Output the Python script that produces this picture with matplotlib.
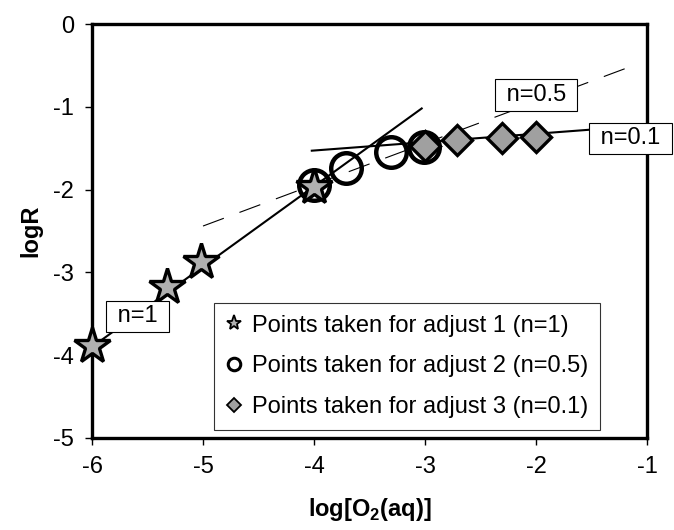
import matplotlib.pyplot as plt
from matplotlib.lines import Line2D

plt.rcParams['font.family'] = ['Liberation Sans', 'DejaVu Sans']
plt.rcParams['mathtext.fontset'] = 'custom'
plt.rcParams['mathtext.rm'] = 'Liberation Sans'
plt.rcParams['mathtext.bf'] = 'Liberation Sans:bold'
plt.rcParams['axes.unicode_minus'] = False

# points used for each fit
star_x = [-6.0, -5.32, -5.02, -4.0]
star_y = [-3.89, -3.18, -2.87, -1.97]
circ_x = [-4.0, -3.71, -3.31, -3.01]
circ_y = [-1.94, -1.74, -1.54, -1.48]
diam_x = [-3.0, -2.71, -2.31, -2.0]
diam_y = [-1.47, -1.40, -1.38, -1.36]

# fitted lines (ends)
fit1_x = [-6.0, -3.03]
fit1_y = [-3.90, -1.02]
fit05_x = [-5.0, -1.1]
fit05_y = [-2.44, -0.49]
fit01_x = [-4.02, -1.45]
fit01_y = [-1.53, -1.27]

labels = ['Points taken for adjust 1 (n=1)',
          'Points taken for adjust 2 (n=0.5)',
          'Points taken for adjust 3 (n=0.1)']
box_text = [' n=1 ', ' n=0.5 ', ' n=0.1 ']
box_x = [-5.59, -2.0, -1.15]
box_y = [-3.53, -0.86, -1.38]

fig = plt.figure(figsize=(6.74, 5.30), dpi=100)
ax = fig.add_axes([0.1365, 0.1736, 0.8235, 0.7811])

ax.plot(fit1_x, fit1_y, color='black', lw=1.5, zorder=2)
ax.plot(fit01_x, fit01_y, color='black', lw=1.5, zorder=2)
ax.plot(fit05_x, fit05_y, color='black', lw=0.8, ls=(0, (20, 15)), zorder=2)

ax.plot(circ_x, circ_y, ls='none', marker='o', ms=22, mfc='none',
        mec='black', mew=3.2, zorder=3, clip_on=False)
ax.plot(star_x, star_y, ls='none', marker='*', ms=27, mfc='#b0b0b0',
        mec='black', mew=2.4, zorder=4, clip_on=False)
ax.plot(diam_x, diam_y, ls='none', marker='D', ms=15, mfc='#a0a0a0',
        mec='black', mew=2.4, zorder=4, clip_on=False)

for t, x, y in zip(box_text, box_x, box_y):
    ax.text(x, y, t, fontsize=17, ha='center', va='center', zorder=5,
            clip_on=False,
            bbox=dict(boxstyle='square,pad=0.2', fc='white', ec='black', lw=0.8))

handles = [
    Line2D([], [], ls='none', marker='*', ms=11, mfc='#b0b0b0', mec='black', mew=1.3),
    Line2D([], [], ls='none', marker='o', ms=9, mfc='none', mec='black', mew=2.2),
    Line2D([], [], ls='none', marker='D', ms=7, mfc='#a0a0a0', mec='black', mew=1.3),
]
leg = ax.legend(handles, labels, loc='lower left', bbox_to_anchor=(0.22, 0.019),
                borderaxespad=0, fontsize=17, frameon=True, fancybox=False,
                handlelength=0.7, handletextpad=0.4, labelspacing=0.8,
                borderpad=0.5)
leg.get_frame().set_edgecolor('black')
leg.get_frame().set_linewidth(0.8)
leg.set_zorder(6)

ax.set_xlim(-6, -1)
ax.set_ylim(-5, 0)
ax.set_xticks([-6, -5, -4, -3, -2, -1])
ax.set_yticks([0, -1, -2, -3, -4, -5])
ax.tick_params(direction='out', length=5, width=1, labelsize=17, pad=8)
for s in ax.spines.values():
    s.set_linewidth(2.4)

ax.set_xlabel(r'log[O$_{\mathbf{2}}$(aq)]', fontsize=17, fontweight='bold', labelpad=13)
ax.set_ylabel('logR', fontsize=17, fontweight='bold', labelpad=8)

fig.savefig('out.png', dpi=100)
